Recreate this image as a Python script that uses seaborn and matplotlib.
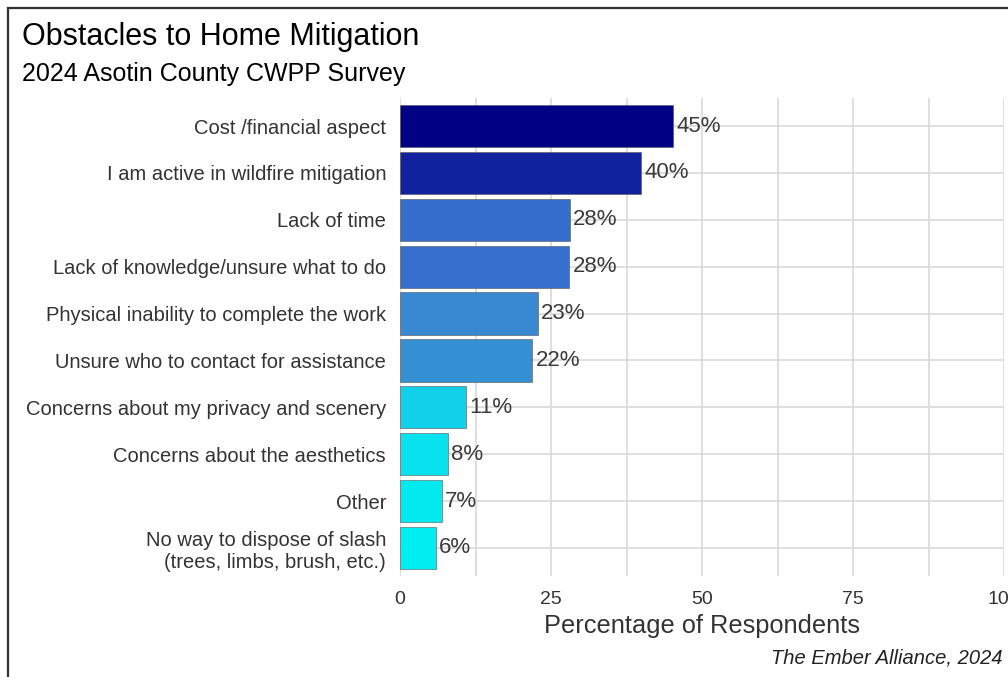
import pandas as pd
import matplotlib
matplotlib.use('Agg')
import matplotlib.pyplot as plt
from matplotlib.colors import LinearSegmentedColormap, Normalize
from matplotlib.patches import Rectangle
from matplotlib.ticker import MultipleLocator
import seaborn as sns

# data
obstacles = [
    'Cost /financial aspect',
    'I am active in wildfire mitigation',
    'Lack of time',
    'Lack of knowledge/unsure what to do',
    'Physical inability to complete the work',
    'Unsure who to contact for assistance',
    'Concerns about my privacy and scenery',
    'Concerns about the aesthetics',
    'Other',
    'No way to dispose of slash\n(trees, limbs, brush, etc.)',
]
percents = [45.2, 39.9, 28.1, 28.0, 22.8, 21.9, 10.9, 7.9, 6.9, 5.9]
x_ticks = [0, 25, 50, 75, 100]

df = pd.DataFrame({'Obstacle': obstacles, 'Percent': percents})

sns.set_theme(style='whitegrid')
plt.rcParams['font.family'] = ['Liberation Sans', 'DejaVu Sans']

# fill gradient: cyan (low) -> blue -> navy (high)
cmap = LinearSegmentedColormap.from_list(
    'ember', [(0, '#00EEF2'), (0.45, '#3A85D0'), (0.6, '#3366CC'), (1, '#000085')])
norm = Normalize(df['Percent'].min(), df['Percent'].max())
palette = {o: cmap(norm(p)) for o, p in zip(df['Obstacle'], df['Percent'])}

fig = plt.figure(figsize=(10.08, 6.77), dpi=100)
ax = fig.add_axes([400 / 1008, 1 - 576 / 677, 604 / 1008, 478 / 677])

sns.barplot(data=df, x='Percent', y='Obstacle', hue='Obstacle', palette=palette,
            legend=False, width=0.9, edgecolor='#555555', linewidth=0.4,
            saturation=1, ax=ax, zorder=3)

for i, p in enumerate(df['Percent']):
    ax.text(p + 0.6, i, f'{round(p):.0f}%', va='center', ha='left',
            fontsize=16, color='#3a3a3a', zorder=4)

ax.set_xlim(0, 100)
ax.set_ylim(9.6, -0.6)
ax.set_xticks(x_ticks)
ax.xaxis.set_minor_locator(MultipleLocator(12.5))
ax.grid(True, which='major', color='#DCDCDC', linewidth=1.3)
ax.grid(True, which='minor', axis='x', color='#DCDCDC', linewidth=1.3)
ax.set_axisbelow(True)
for s in ax.spines.values():
    s.set_visible(False)
ax.tick_params(axis='both', which='both', length=0)
ax.tick_params(axis='y', labelsize=14.5, labelcolor='#333333', pad=10)
ax.tick_params(axis='x', labelsize=14, labelcolor='#333333', pad=11)
ax.set_ylabel('')
ax.set_xlabel('Percentage of Respondents', fontsize=18.3, color='#333333', labelpad=4)
ax.set_facecolor('white')

fig.text(22 / 1008, 1 - 45 / 677, 'Obstacles to Home Mitigation',
         fontsize=22, color='black', va='baseline', ha='left')
fig.text(22 / 1008, 1 - 81 / 677, '2024 Asotin County CWPP Survey',
         fontsize=18, color='black', va='baseline', ha='left')
fig.text(1003 / 1008, 1 - 663 / 677, 'The Ember Alliance, 2024',
         fontsize=14.5, style='italic', color='#222222', va='baseline', ha='right')

# outer frame (left and top edges visible, rest cropped)
fig.patches.append(Rectangle((8 / 1008, -0.1), 1.2, 1.1 - 8 / 677, transform=fig.transFigure,
                             fill=False, edgecolor='#333333', linewidth=1.6))

fig.savefig('out.png', dpi=100, facecolor='white')
